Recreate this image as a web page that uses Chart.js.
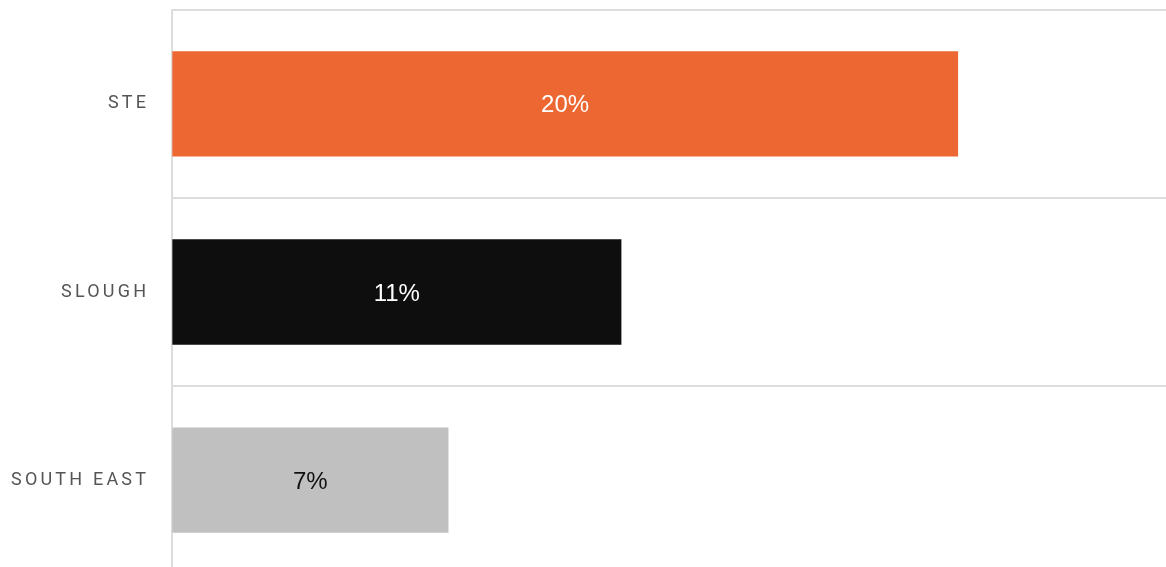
<!DOCTYPE html>
<html>
<head>
<meta charset="utf-8">
<script src="https://cdn.jsdelivr.net/npm/chart.js@4"></script>
<style>
    html, body { margin: 0; padding: 0; background: #fff; overflow: hidden; }
    #wrap { position: relative; width: 1166px; height: 632px; margin-top: -24px; }
</style>
</head>
<body>
<div id="wrap"><canvas id="regionChart"></canvas></div>
<script>
var regionLabels = ['STE', 'SLOUGH', 'SOUTH EAST'];
var regionValues = [19.77, 11.3, 6.95];
var barColours = ['#EC6732', '#0E0E0E', '#C0C0C0'];
var valueColours = ['#ffffff', '#ffffff', '#111111'];

// spaced-out axis labels: canvas resets lose letterSpacing, so set it each pass
var tickSpacing = {
    id: 'tickSpacing',
    beforeUpdate: function (chart) { chart.ctx.letterSpacing = '3.2px'; },
    beforeDraw: function (chart) { chart.ctx.letterSpacing = '3.2px'; }
};

// value labels in the middle of each bar
var barValueLabels = {
    id: 'barValueLabels',
    afterDatasetsDraw: function (chart) {
        var ctx = chart.ctx;
        var meta = chart.getDatasetMeta(0);
        ctx.save();
        ctx.letterSpacing = '0px';
        ctx.font = '24px "Liberation Sans", Arial, sans-serif';
        ctx.textAlign = 'center';
        ctx.textBaseline = 'middle';
        meta.data.forEach(function (bar, i) {
            var cx = (bar.base + bar.x) / 2;
            ctx.fillStyle = valueColours[i];
            ctx.fillText(Math.round(regionValues[i]) + '%', cx, bar.y + 2);
        });
        ctx.restore();
    }
};

document.addEventListener("DOMContentLoaded", function () {
    var ctx = document.getElementById('regionChart').getContext('2d');
    new Chart(ctx, {
        type: 'bar',
        data: {
            labels: regionLabels,
            datasets: [{
                data: regionValues,
                backgroundColor: barColours,
                borderWidth: 0,
                barPercentage: 0.7,
                categoryPercentage: 0.8
            }]
        },
        options: {
            indexAxis: 'y',
            responsive: true,
            maintainAspectRatio: false,
            animation: false,
            layout: { padding: { top: 0, bottom: 0, left: -12, right: 0 } },
            plugins: {
                legend: { display: false },
                tooltip: { enabled: false }
            },
            scales: {
                x: {
                    display: false,
                    min: 0,
                    max: 25
                },
                y: {
                    grid: { color: '#dddddd', lineWidth: 2, drawTicks: false },
                    border: { display: true, color: '#dddddd', width: 2 },
                    ticks: {
                        color: '#555555',
                        padding: 23,
                        font: { family: 'Roboto', size: 18 }
                    }
                }
            }
        },
        plugins: [tickSpacing, barValueLabels]
    });
});
</script>
</body>
</html>
